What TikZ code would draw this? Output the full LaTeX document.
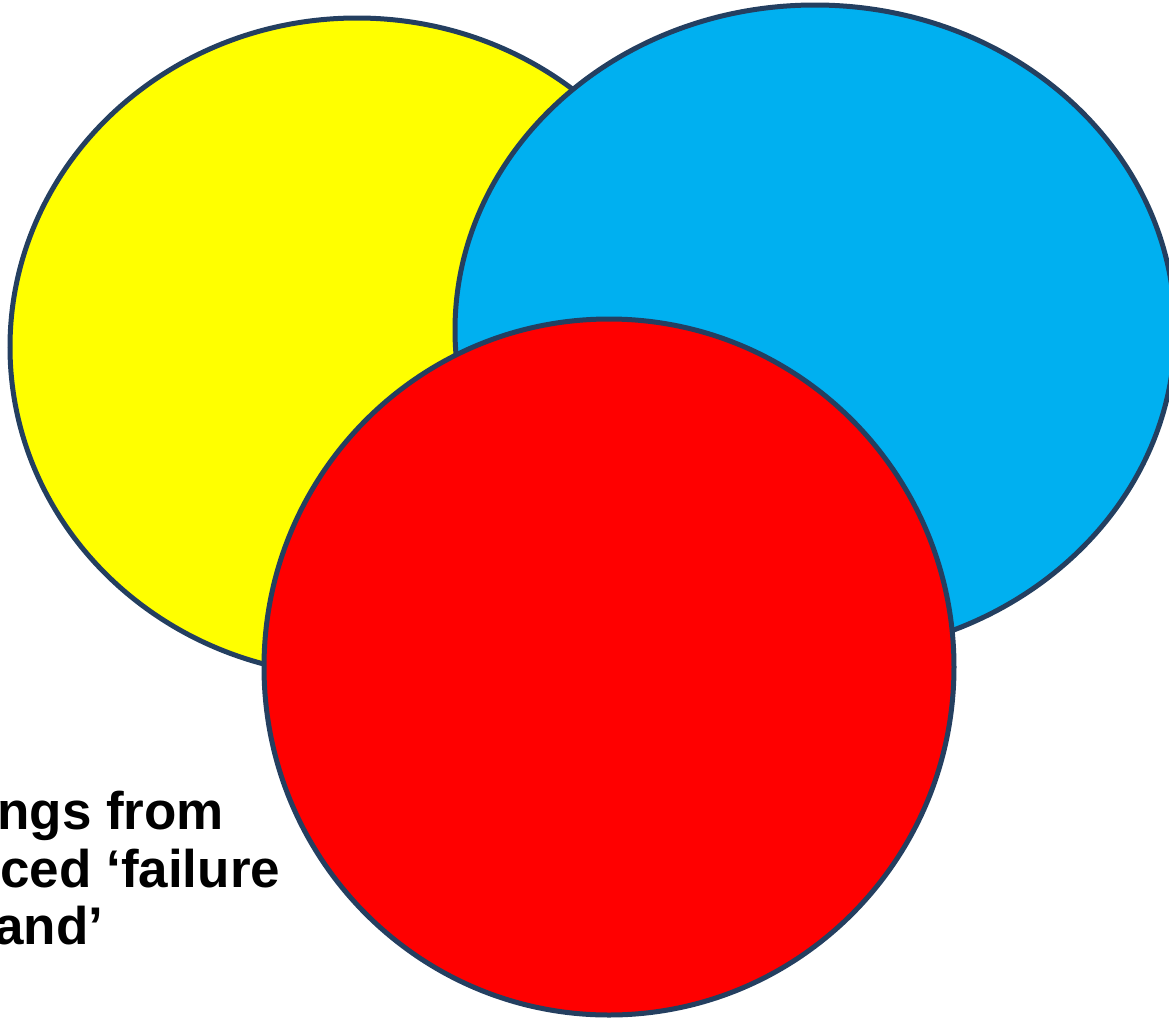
\documentclass[tikz,border=0pt]{standalone}
\usepackage{fontspec}
\setmainfont{Liberation Sans}
\definecolor{rimblue}{HTML}{243F60}
\definecolor{skyfill}{HTML}{00B0F0}
\definecolor{sunfill}{HTML}{FFFF00}
\definecolor{redfill}{HTML}{FF0000}
\tikzset{
  blob/.style={draw=rimblue, line width=2.5pt},
  caption/.style={font=\bfseries\fontsize{26.5}{28.6}\selectfont, align=left, anchor=north west, inner sep=0pt}
}

\begin{document}
\begin{tikzpicture}[x=0.5pt,y=-0.5pt]
\useasboundingbox (0,0) rectangle (1169,1019);
\clip (0,0) rectangle (1169,1019);

% The three overlapping sets
\path[blob,fill=sunfill] (357,347) ellipse [x radius=347, y radius=329];
\path[blob,fill=skyfill] (815,330) ellipse [x radius=360, y radius=325];
\path[blob,fill=redfill] (609,667) ellipse [x radius=345, y radius=348];

% Text cut off at the left edge
\node[caption] (txt) at (0,791)
  {\hspace*{-1.5pt}ngs from\\ced ‘failure\\\hspace*{-3pt}and’};
\end{tikzpicture}
\end{document}
